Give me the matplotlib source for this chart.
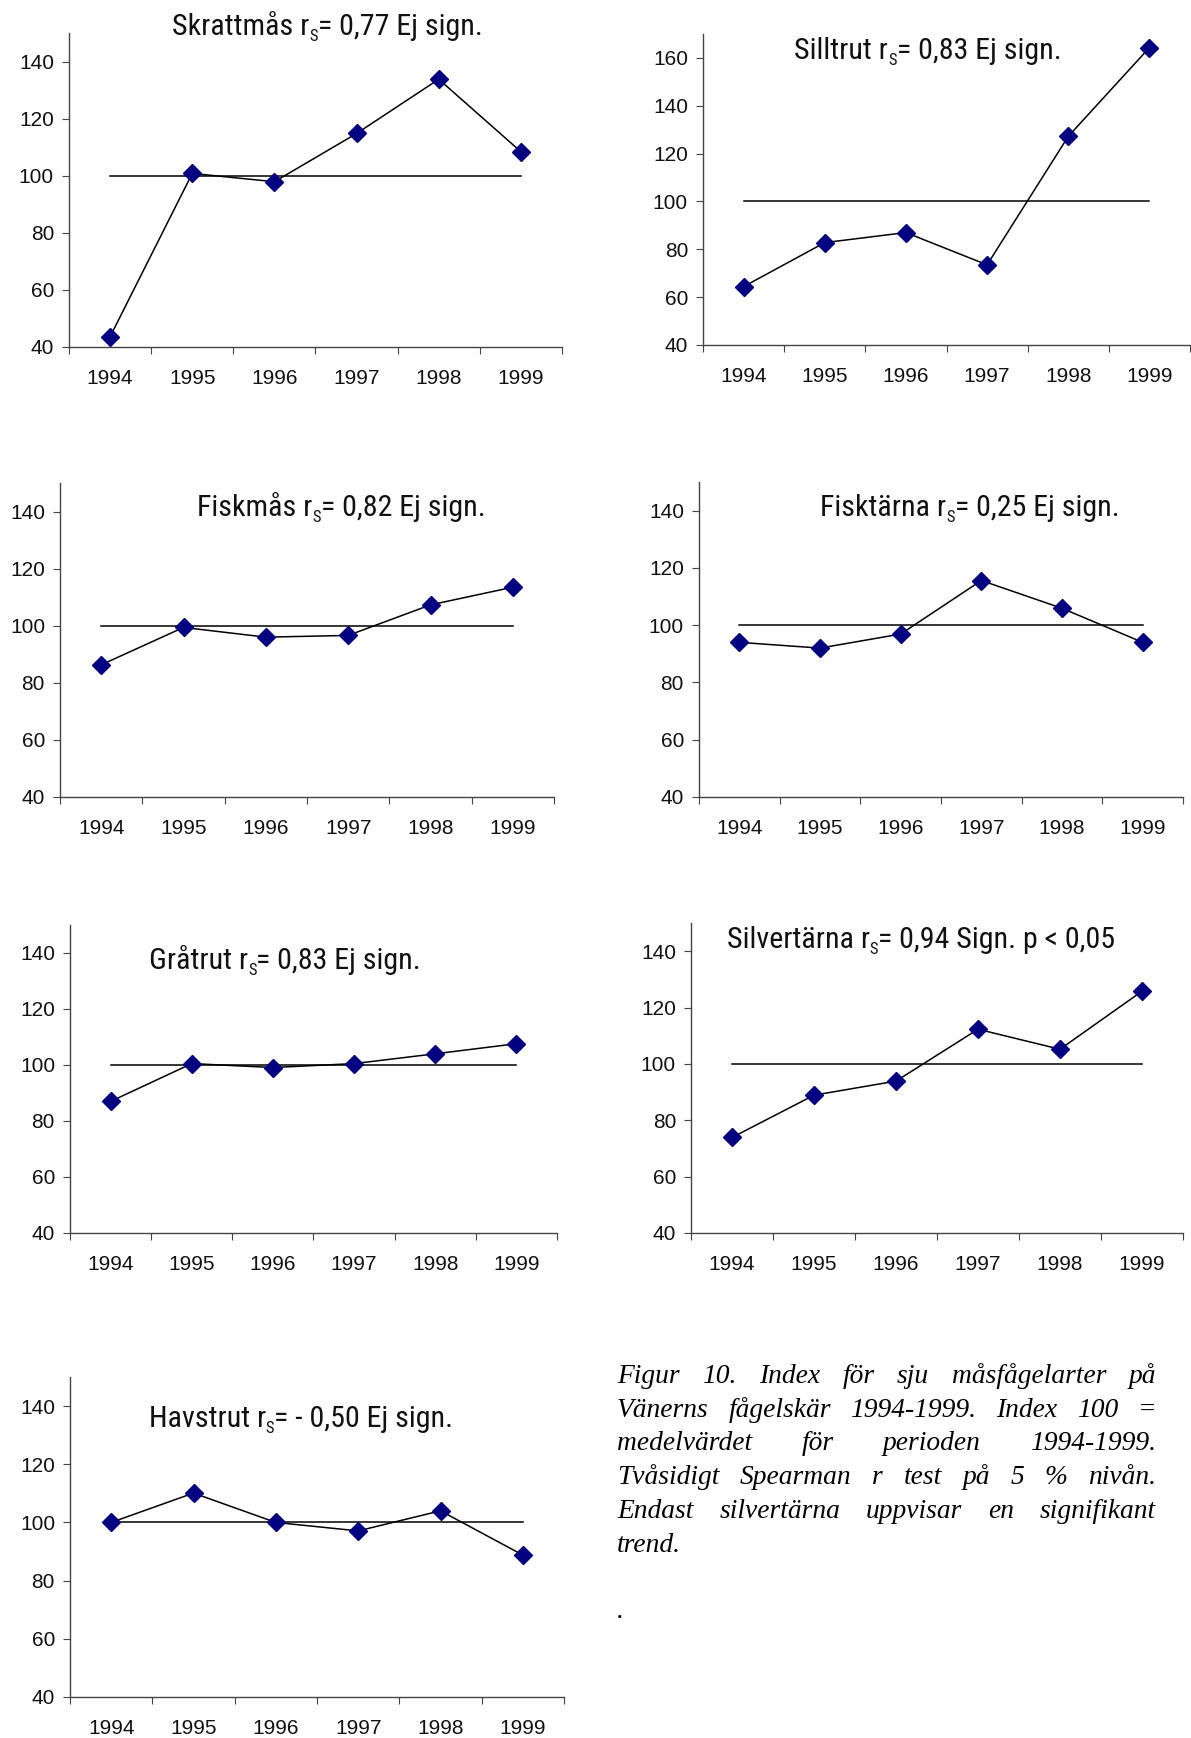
import matplotlib
matplotlib.use("Agg")
import matplotlib.pyplot as plt
import numpy as np
from matplotlib import font_manager
from matplotlib.transforms import IdentityTransform

# index values per species, 1994-1999 (100 = mean of the period)
years = ["1994", "1995", "1996", "1997", "1998", "1999"]

skrattmas = [43.6, 100.8, 97.9, 114.8, 133.8, 108.4]
silltrut = [64.4, 82.8, 87.0, 73.5, 127.2, 164.3]
fiskmas = [86.3, 99.4, 96.0, 96.6, 107.3, 113.5]
fisktarna = [94.0, 92.0, 96.9, 115.6, 105.9, 94.0]
gratrut = [87.0, 100.5, 99.1, 100.5, 104.0, 107.6]
silvertarna = [73.9, 88.9, 93.9, 112.3, 105.2, 125.8]
havstrut = [100.0, 110.1, 100.0, 97.1, 104.0, 88.8]

index_level = 100

titles = [
    ("Skrattmås r", "S", "= 0,77 Ej sign."),
    ("Silltrut r", "S", "= 0,83 Ej sign."),
    ("Fiskmås r", "S", "= 0,82 Ej sign."),
    ("Fisktärna r", "S", "= 0,25 Ej sign."),
    ("Gråtrut r", "S", "= 0,83 Ej sign."),
    ("Silvertärna r", "S", "= 0,94 Sign. p < 0,05"),
    ("Havstrut r", "S", "= - 0,50 Ej sign."),
]
series = [skrattmas, silltrut, fiskmas, fisktarna, gratrut, silvertarna, havstrut]
y_tops = [150, 170, 150, 150, 150, 150, 150]
y_ticks = [
    range(40, 141, 20), range(40, 161, 20), range(40, 141, 20), range(40, 141, 20),
    range(40, 141, 20), range(40, 141, 20), range(40, 141, 20),
]

caption_lines = [
    "Figur 10. Index för sju måsfågelarter på",
    "Vänerns fågelskär 1994-1999. Index 100 =",
    "medelvärdet för perioden 1994-1999.",
    "Tvåsidigt Spearman r test på 5 %  nivån.",
    "Endast silvertärna uppvisar en signifikant",
    "trend.",
]

W, H = 1191, 1738
# axes boxes in pixels: left, right, top, bottom
boxes = [
    (69, 562, 33, 347),
    (703, 1190, 34, 345),
    (60, 554, 483, 797),
    (699, 1183, 482, 797),
    (70, 557, 925, 1233),
    (691, 1183, 923, 1233),
    (70, 564, 1377, 1697),
]
# title centre x and baseline y in pixels
title_pos = [(327, 35), (928, 59), (341, 516), (970, 516), (285, 969), (921, 948), (301, 1427)]
title_width = 310  # pixel width of the first title

installed = {f.name for f in font_manager.fontManager.ttflist}
narrow = [n for n in ("Liberation Sans Narrow", "Arial Narrow", "Roboto Condensed",
                      "Open Sans Condensed", "DejaVu Sans Condensed") if n in installed]
TITLE_FONT = [narrow[0] if narrow else "Liberation Sans", "DejaVu Sans"]
TICK_FONT = ["Liberation Sans", "DejaVu Sans"]
CAPTION_FONT = ["Liberation Serif", "DejaVu Serif"]
TICK_SIZE = 15
CAPTION_SIZE = 19.8
AXIS_COLOR = "#444444"

fig = plt.figure(figsize=(W / 100, H / 100), dpi=100)
renderer = fig.canvas.get_renderer()
px = IdentityTransform()

for values, top, ticks, (l, r, t, b) in zip(series, y_tops, y_ticks, boxes):
    ax = fig.add_axes([l / W, 1 - b / H, (r - l) / W, (b - t) / H])
    x = np.arange(len(years))
    ax.plot([x[0], x[-1]], [index_level, index_level], color="black", lw=1.1, zorder=2)
    ax.plot(x, values, color="black", lw=1.1, marker="D", ms=9,
            mfc="#000080", mec="#000080", zorder=3, clip_on=False)
    ax.set_xlim(-0.5, len(years) - 0.5)
    ax.set_ylim(40, top)
    ax.set_yticks(list(ticks))
    ax.set_xticks(np.arange(-0.5, len(years), 1))
    ax.set_xticklabels([])
    ax.set_xticks(x, minor=True)
    ax.set_xticklabels(years, minor=True)
    ax.tick_params(axis="x", which="major", length=5, direction="out", color=AXIS_COLOR)
    ax.tick_params(axis="x", which="minor", length=0, pad=16)
    ax.tick_params(axis="y", length=5, direction="out", color=AXIS_COLOR, pad=5.8)
    for lab in ax.get_xticklabels(minor=True) + ax.get_yticklabels():
        lab.set_fontfamily(TICK_FONT)
        lab.set_fontsize(TICK_SIZE)
        lab.set_color("#111111")
    for side in ("top", "right"):
        ax.spines[side].set_visible(False)
    for side in ("left", "bottom"):
        ax.spines[side].set_color(AXIS_COLOR)
        ax.spines[side].set_linewidth(1)
    ax.patch.set_alpha(0)


def title_parts(head, sub, tail, size):
    parts = [(head, size, 0), (sub, size * 0.55, -6), (tail, size, 0)]
    items = []
    for s, fs, dy in parts:
        txt = fig.text(0, 0, s, fontsize=fs, family=TITLE_FONT, ha="left",
                       va="baseline", transform=px, color="#111111")
        items.append((txt, dy, txt.get_window_extent(renderer).width))
    return items


# pick the title size so that the first title gets its measured width
probe = title_parts(*titles[0], 20)
probe_w = sum(w for _, _, w in probe)
for txt, _, _ in probe:
    txt.remove()
TITLE_SIZE = 20 * title_width / probe_w

for (cx, base), parts in zip(title_pos, titles):
    items = title_parts(*parts, TITLE_SIZE)
    xpos = cx - sum(w for _, _, w in items) / 2
    for txt, dy, w in items:
        txt.set_position((xpos, H - base + dy))
        xpos += w

# justified caption in the free lower-right cell
cap_left, cap_right = 617, 1156
cap_base, cap_step = 1383, 33.7
for i, line in enumerate(caption_lines):
    words = line.split()
    y = H - (cap_base + i * cap_step)
    texts = [fig.text(0, y, w, fontsize=CAPTION_SIZE, family=CAPTION_FONT, style="italic",
                      ha="left", va="baseline", transform=px) for w in words]
    widths = [t.get_window_extent(renderer).width for t in texts]
    last = i == len(caption_lines) - 1
    if last or len(words) == 1:
        gap = CAPTION_SIZE * 0.25 * 100 / 72
    else:
        gap = (cap_right - cap_left - sum(widths)) / (len(words) - 1)
    xpos = cap_left
    for t, w in zip(texts, widths):
        t.set_position((xpos, y))
        xpos += w + gap

fig.text(617, H - 1618, ".", fontsize=CAPTION_SIZE, family=CAPTION_FONT, style="italic",
         ha="left", va="baseline", transform=px)

fig.savefig("out.png", dpi=100)
